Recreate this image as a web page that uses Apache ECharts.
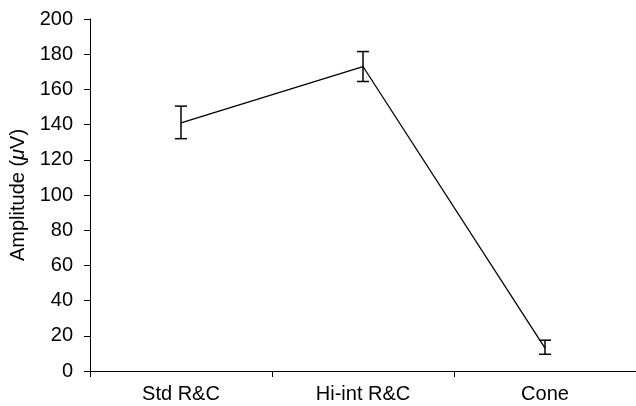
<!DOCTYPE html>
<html>
<head>
<meta charset="utf-8">
<script src="https://cdn.jsdelivr.net/npm/echarts@6/dist/echarts.min.js"></script>
<style>
  html, body { margin: 0; padding: 0; background: #fff; }
  #chart { width: 636px; height: 406px; }
</style>
</head>
<body>
<div id="chart"></div>
<script>
// 数据
const categories = ['Std R&C', 'Hi-int R&C', 'Cone'];
const amplitude = [141, 173, 13];
const errLow = [132, 164.5, 9.5];
const errHigh = [150.5, 181.5, 17.5];
const yTicks = [0, 20, 40, 60, 80, 100, 120, 140, 160, 180, 200];

const myChart = echarts.init(document.getElementById('chart'));
const font = 'Liberation Sans, Arial, sans-serif';

const option = {
  animation: false,
  grid: {
    left: 90,
    right: 0,
    top: 19,
    bottom: 35,
    containLabel: false,
    outerBoundsMode: 'none'
  },
  xAxis: {
    type: 'category',
    data: categories,
    boundaryGap: true,
    axisLine: { lineStyle: { color: '#000', width: 1 } },
    axisTick: { show: true, length: 6, lineStyle: { color: '#000' } },
    axisLabel: { color: '#000', fontSize: 20, fontFamily: font, margin: 13 }
  },
  yAxis: {
    type: 'value',
    min: yTicks[0],
    max: yTicks[yTicks.length - 1],
    interval: 20,
    name: '{a|Amplitude (}{b|μ}{a|V)}',
    nameLocation: 'middle',
    nameGap: 62,
    nameRotate: 90,
    nameTextStyle: {
      rich: {
        a: { fontSize: 20, fontFamily: font, color: '#000' },
        b: { fontSize: 20, fontFamily: font, color: '#000', fontStyle: 'italic' }
      }
    },
    axisLine: { show: true, lineStyle: { color: '#000', width: 1 } },
    axisTick: { show: true, length: 6, lineStyle: { color: '#000' } },
    axisLabel: { color: '#000', fontSize: 20, fontFamily: font, margin: 17 },
    splitLine: { show: false }
  },
  series: [
    {
      type: 'line',
      data: amplitude,
      symbol: 'none',
      lineStyle: { color: '#000', width: 1.3 },
      z: 2
    },
    {
      type: 'custom',
      data: categories.map((c, i) => [i, errLow[i], errHigh[i]]),
      renderItem: function (params, api) {
        const lo = api.coord([api.value(0), api.value(1)]);
        const hi = api.coord([api.value(0), api.value(2)]);
        const half = 6;
        const style = { stroke: '#000', lineWidth: 1.5 };
        return {
          type: 'group',
          children: [
            { type: 'line', shape: { x1: hi[0], y1: hi[1], x2: lo[0], y2: lo[1] }, style: style },
            { type: 'line', shape: { x1: hi[0] - half, y1: hi[1], x2: hi[0] + half, y2: hi[1] }, style: style },
            { type: 'line', shape: { x1: lo[0] - half, y1: lo[1], x2: lo[0] + half, y2: lo[1] }, style: style }
          ]
        };
      },
      z: 3
    }
  ]
};

myChart.setOption(option);
</script>
</body>
</html>
